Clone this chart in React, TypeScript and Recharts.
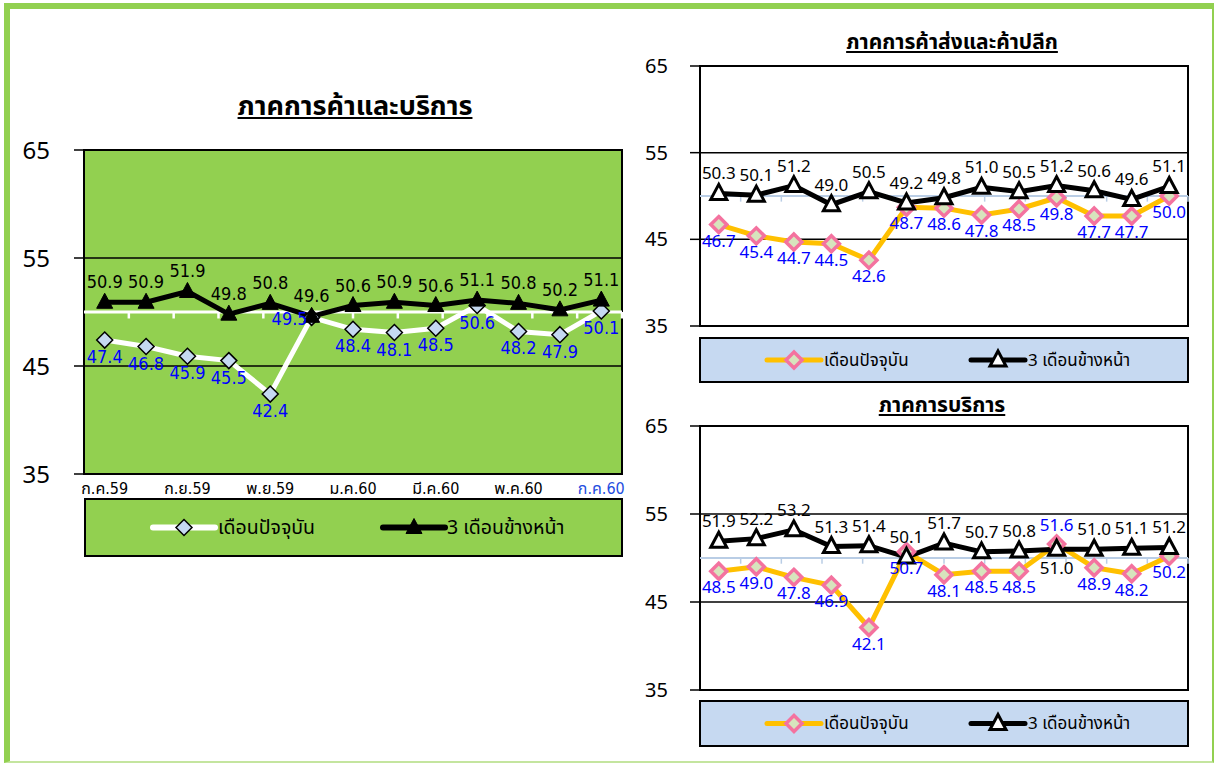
import React from 'react';
import { LineChart, Line, XAxis, YAxis, ReferenceLine, ReferenceArea, LabelList } from 'recharts';

// เดือน ก.ค.59 - ก.ค.60
const months = [
  'ก.ค.59', 'ส.ค.59', 'ก.ย.59', 'ต.ค.59', 'พ.ย.59', 'ธ.ค.59', 'ม.ค.60',
  'ก.พ.60', 'มี.ค.60', 'เม.ย.60', 'พ.ค.60', 'มิ.ย.60', 'ก.ค.60',
];
const yTicks = [35, 45, 55, 65];

// ภาคการค้าและบริการ
const allCurrent = [47.4, 46.8, 45.9, 45.5, 42.4, 49.5, 48.4, 48.1, 48.5, 50.6, 48.2, 47.9, 50.1];
const allForward = [50.9, 50.9, 51.9, 49.8, 50.8, 49.6, 50.6, 50.9, 50.6, 51.1, 50.8, 50.2, 51.1];

// ภาคการค้าส่งและค้าปลีก
const tradeCurrent = [46.7, 45.4, 44.7, 44.5, 42.6, 48.7, 48.6, 47.8, 48.5, 49.8, 47.7, 47.7, 50.0];
const tradeForward = [50.3, 50.1, 51.2, 49.0, 50.5, 49.2, 49.8, 51.0, 50.5, 51.2, 50.6, 49.6, 51.1];

// ภาคการบริการ
const serviceCurrent = [48.5, 49.0, 47.8, 46.9, 42.1, 50.7, 48.1, 48.5, 48.5, 51.6, 48.9, 48.2, 50.2];
const serviceForward = [51.9, 52.2, 53.2, 51.3, 51.4, 50.1, 51.7, 50.7, 50.8, 51.0, 51.0, 51.1, 51.2];

const legendCurrent = 'เดือนปัจจุบัน';
const legendForward = '3 เดือนข้างหน้า';

const GREEN = '#92D050';
const LIGHT_BLUE = '#C6D9F1';
const FONT = "Tahoma, 'Noto Sans Thai', 'Noto Sans', 'DejaVu Sans', sans-serif";
const NARROW = "'DejaVu Sans Condensed', Tahoma, 'Noto Sans Thai', sans-serif";

const boundaries = months.slice(1).map((_, i) => i + 1);

function diamond(r: number, fill: string, stroke: string, sw: number) {
  return (p: any) => {
    const { cx, cy, index } = p;
    if (cx == null || cy == null) return <g key={index} />;
    return (
      <polygon
        key={index}
        points={`${cx},${cy - r} ${cx + r},${cy} ${cx},${cy + r} ${cx - r},${cy}`}
        fill={fill}
        stroke={stroke}
        strokeWidth={sw}
      />
    );
  };
}

function triangle(w: number, h: number, fill: string, stroke: string, sw: number) {
  return (p: any) => {
    const { cx, cy, index } = p;
    if (cx == null || cy == null) return <g key={index} />;
    return (
      <polygon
        key={index}
        points={`${cx},${cy - h * 0.6} ${cx + w / 2},${cy + h * 0.4} ${cx - w / 2},${cy + h * 0.4}`}
        fill={fill}
        stroke={stroke}
        strokeWidth={sw}
      />
    );
  };
}

const curDotGreen = diamond(8, '#C5D9F1', '#000', 1.5);
const curDotWhite = diamond(8, '#D7E4BD', '#F4729F', 3.5);
const fwdDotGreen = triangle(16, 15, '#000', '#000', 1);
const fwdDotWhite = triangle(16, 15, '#FFFFFF', '#000', 3);

interface PanelProps {
  current: number[];
  forward: number[];
  width: number;
  height: number;
  margin: { top: number; right: number; bottom: number; left: number };
  yWidth: number;
  green?: boolean;
  showX?: boolean;
  labelSize: number;
  labelFont: string;
  tickSize: number;
  tickMargin: number;
  // label tweaks (index lists)
  currentUp?: number[];
  currentLeft?: number[];
  forwardDown?: number[];
}

function Panel(props: PanelProps) {
  const { current, forward, green } = props;
  const data = months.map((m, i) => ({ m, cur: current[i], fwd: forward[i] }));
  const midColor = green ? '#FFFFFF' : '#B9CDE5';

  const curLabel = (p: any) => {
    const { x, y, value, index } = p;
    let tx = x;
    let ty = y + props.labelSize + 5;
    if (props.currentUp?.includes(index)) ty = y - 13;
    if (props.currentLeft?.includes(index)) {
      tx = x - 22;
      ty = y + 8;
    }
    return (
      <text key={index} x={tx} y={ty} textAnchor="middle" fill="#0000FF"
        fontSize={props.labelSize} fontFamily={props.labelFont}>
        {Number(value).toFixed(1)}
      </text>
    );
  };

  const fwdLabel = (p: any) => {
    const { x, y, value, index } = p;
    let ty = y - 14;
    if (props.forwardDown?.includes(index)) ty = y + props.labelSize + 8;
    return (
      <text key={index} x={x} y={ty} textAnchor="middle" fill="#000"
        fontSize={props.labelSize} fontFamily={props.labelFont}>
        {Number(value).toFixed(1)}
      </text>
    );
  };

  const xTick = (p: any) => {
    const { x, y, payload, index } = p;
    const last = payload.value === months[months.length - 1] && index > 0;
    return (
      <text x={x} y={y + 12} textAnchor="middle" fontSize={16} fontFamily={NARROW}
        fill={last ? '#1F4EE0' : '#000'}>
        {payload.value}
      </text>
    );
  };

  return (
    <LineChart width={props.width} height={props.height} data={data} margin={props.margin}>
      <XAxis dataKey="m" scale="band" interval={1} axisLine={false} tickLine={false}
        tick={xTick} height={props.showX ? 30 : 0} hide={!props.showX} />
      <XAxis xAxisId="b" type="number" domain={[0, months.length]} hide />
      <YAxis domain={[35, 65]} ticks={yTicks} width={props.yWidth} axisLine={false}
        tickSize={10} tickMargin={props.tickMargin}
        tickLine={{ stroke: '#000', strokeWidth: 1.5 }}
        tick={{ fontSize: props.tickSize, fill: '#000', fontFamily: FONT }} />
      <ReferenceArea y1={35} y2={65} fill={green ? GREEN : '#FFFFFF'} fillOpacity={1}
        stroke="#000" strokeWidth={2} />
      <ReferenceLine y={55} stroke="#000" strokeWidth={1.5} />
      <ReferenceLine y={45} stroke="#000" strokeWidth={1.5} />
      <ReferenceLine y={50} stroke={midColor} strokeWidth={green ? 3 : 2} />
      {boundaries.map((b) => (
        <ReferenceLine key={b} xAxisId="b"
          segment={[{ x: b, y: 50 }, { x: b, y: green ? 49.4 : 49.35 }]}
          stroke={midColor} strokeWidth={green ? 2.5 : 1.5} />
      ))}
      <Line dataKey="cur" stroke={green ? '#FFFFFF' : '#FFC000'} strokeWidth={5}
        isAnimationActive={false} dot={green ? curDotGreen : curDotWhite}>
        <LabelList dataKey="cur" content={curLabel} />
      </Line>
      <Line dataKey="fwd" stroke="#000" strokeWidth={5} isAnimationActive={false}
        dot={green ? fwdDotGreen : fwdDotWhite}>
        <LabelList dataKey="fwd" content={fwdLabel} />
      </Line>
    </LineChart>
  );
}

function LegendBox(props: {
  left: number; top: number; width: number; height: number; green?: boolean;
  fontSize: number; items: { x: number; textX: number; kind: 'cur' | 'fwd'; lineW: number }[];
}) {
  const { green } = props;
  const cy = props.height / 2;
  return (
    <div style={{
      position: 'absolute', left: props.left, top: props.top, width: props.width,
      height: props.height, boxSizing: 'border-box', border: '2px solid #000',
      background: green ? GREEN : LIGHT_BLUE,
    }}>
      <svg width={props.width - 4} height={props.height - 4} style={{ position: 'absolute', left: 0, top: 0 }}>
        {props.items.map((it, i) => {
          const x0 = it.x - props.left - 2;
          const tx = it.textX - props.left - 2;
          const mx = x0 + it.lineW / 2;
          const y = cy - 2;
          const cur = it.kind === 'cur';
          const stroke = cur ? (green ? '#FFFFFF' : '#FFC000') : '#000';
          const dot = cur ? (green ? curDotGreen : curDotWhite) : (green ? fwdDotGreen : fwdDotWhite);
          return (
            <g key={i}>
              <line x1={x0} x2={x0 + it.lineW} y1={y} y2={y} stroke={stroke} strokeWidth={green ? 6 : 5}
                strokeLinecap="round" />
              {dot({ cx: mx, cy: y, index: i })}
              <text x={tx} y={y + props.fontSize * 0.35} fontSize={props.fontSize} fontFamily={FONT} fill="#000">
                {cur ? legendCurrent : legendForward}
              </text>
            </g>
          );
        })}
      </svg>
    </div>
  );
}

const titleStyle: React.CSSProperties = {
  position: 'absolute', fontFamily: FONT, fontWeight: 'bold', textDecoration: 'underline',
  color: '#000', transform: 'translateX(-50%)', whiteSpace: 'nowrap',
};

export default function App() {
  return (
    <div style={{ position: 'relative', width: 1215, height: 764, background: '#fff', overflow: 'hidden' }}>
      <style>{'body{margin:0}'}</style>
      <div style={{
        position: 'absolute', left: 4, top: 3, width: 1210, height: 760, boxSizing: 'border-box',
        borderLeft: `6px solid ${GREEN}`, borderTop: `6px solid ${GREEN}`,
        borderRight: `2px solid ${GREEN}`, borderBottom: '2px solid #C4E59F',
      }} />

      <div style={{ ...titleStyle, left: 355, top: 86, fontSize: 27 }}>ภาคการค้าและบริการ</div>
      <div style={{ position: 'absolute', left: 0, top: 120 }}>
        <Panel current={allCurrent} forward={allForward} green showX
          width={640} height={384} margin={{ top: 30, right: 18, bottom: 0, left: 0 }}
          yWidth={84} labelSize={18} labelFont={NARROW} tickSize={24} tickMargin={24}
          currentLeft={[5]} />
      </div>
      <LegendBox left={84} top={498} width={539} height={59} green fontSize={19.5}
        items={[{ x: 153, textX: 218, kind: 'cur', lineW: 62 }, { x: 383, textX: 447, kind: 'fwd', lineW: 62 }]} />

      <div style={{ ...titleStyle, left: 952, top: 27, fontSize: 21 }}>ภาคการค้าส่งและค้าปลีก</div>
      <div style={{ position: 'absolute', left: 640, top: 36 }}>
        <Panel current={tradeCurrent} forward={tradeForward}
          width={558} height={312} margin={{ top: 30, right: 10, bottom: 22, left: 0 }}
          yWidth={60} labelSize={17} labelFont={FONT} tickSize={20} tickMargin={22} />
      </div>
      <LegendBox left={699} top={337} width={490} height={46} fontSize={17}
        items={[{ x: 767, textX: 824, kind: 'cur', lineW: 54 }, { x: 971, textX: 1028, kind: 'fwd', lineW: 54 }]} />

      <div style={{ ...titleStyle, left: 942, top: 390, fontSize: 21 }}>ภาคการบริการ</div>
      <div style={{ position: 'absolute', left: 640, top: 396 }}>
        <Panel current={serviceCurrent} forward={serviceForward}
          width={558} height={316} margin={{ top: 30, right: 10, bottom: 22, left: 0 }}
          yWidth={60} labelSize={17} labelFont={FONT} tickSize={20} tickMargin={22}
          currentUp={[9]} forwardDown={[9]} />
      </div>
      <LegendBox left={699} top={700} width={490} height={47} fontSize={17}
        items={[{ x: 767, textX: 824, kind: 'cur', lineW: 54 }, { x: 971, textX: 1028, kind: 'fwd', lineW: 54 }]} />
    </div>
  );
}
